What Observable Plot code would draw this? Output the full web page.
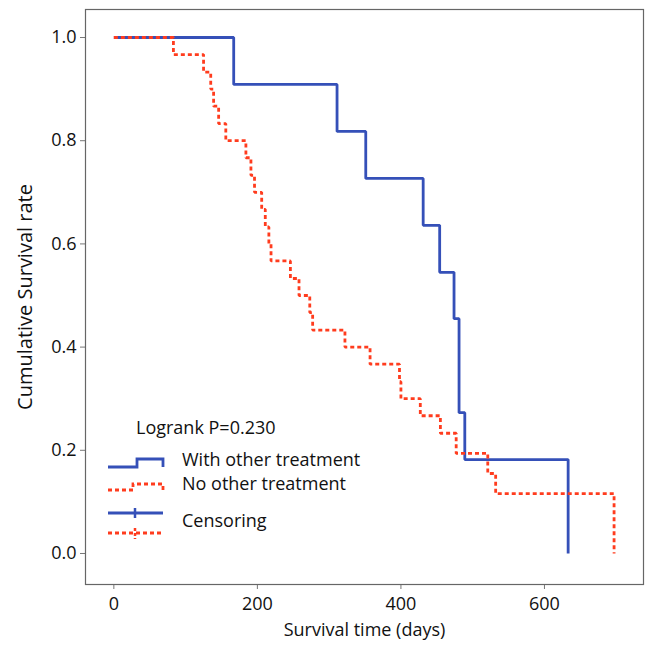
<!DOCTYPE html>
<html>
<head>
<meta charset="utf-8">
<script src="https://cdn.jsdelivr.net/npm/d3@7"></script>
<script src="https://cdn.jsdelivr.net/npm/@observablehq/plot@0.6"></script>
<style>
  html, body { margin: 0; padding: 0; background: #fff; }
  #chart { width: 649px; height: 648px; }
</style>
</head>
<body>
<div id="chart"></div>
<script>
// Survival data (Kaplan–Meier steps)
const withTime = [0, 167, 311, 351, 431, 454, 474, 481, 489, 633];
const withSurv = [1, 0.909, 0.818, 0.727, 0.636, 0.545, 0.455, 0.273, 0.182, 0];
const noTime = [0, 83, 125, 135, 139, 146, 156, 184, 191, 196, 206, 211, 216, 219, 246, 258, 273, 277, 322, 357, 398, 400, 427, 455, 477, 521, 532, 697];
const noSurv = [1, 0.967, 0.933, 0.9, 0.867, 0.833, 0.8, 0.767, 0.733, 0.7, 0.667, 0.633, 0.6, 0.567, 0.533, 0.5, 0.467, 0.433, 0.4, 0.367, 0.333, 0.3, 0.267, 0.233, 0.194, 0.155, 0.116, 0];
const xTicks = [0, 200, 400, 600];
const yTicks = [0, 0.2, 0.4, 0.6, 0.8, 1.0];
const seriesNames = ["With other treatment", "No other treatment"];
const censorLabel = "Censoring";
const pText = "Logrank P=0.230";
const xTitle = "Survival time (days)";
const yTitle = "Cumulative Survival rate";

const BLUE = "#3550b8";
const RED = "#ff3c1e";
const DASH = "4,3";
const FONT = "'Open Sans', sans-serif";

const withData = withTime.map((t, i) => ({t, s: withSurv[i]}));
const noData = noTime.map((t, i) => ({t, s: noSurv[i]}));

const chart = Plot.plot({
  width: 649,
  height: 648,
  marginLeft: 85,
  marginRight: 6,
  marginTop: 9,
  marginBottom: 64,
  style: {fontFamily: FONT, fontSize: "18px", color: "#111", background: "#fff"},
  x: {domain: [-39.5, 738]},
  y: {domain: [-0.0601, 1.0543]},
  marks: [
    Plot.axisX({ticks: xTicks, tickSize: 5, tickPadding: 8, label: null, stroke: "#777", fill: "#111", fontSize: 18}),
    Plot.axisY({ticks: yTicks, tickSize: 5, tickPadding: 4, label: null, tickFormat: d3.format(".1f"), stroke: "#777", fill: "#111", fontSize: 18}),
    Plot.line(withData, {x: "t", y: "s", curve: "step-after", stroke: BLUE, strokeWidth: 2.8, strokeLinejoin: "miter", strokeLinecap: "butt"}),
    Plot.line(noData, {x: "t", y: "s", curve: "step-after", stroke: RED, strokeWidth: 2.8, strokeDasharray: DASH, strokeLinejoin: "miter", strokeLinecap: "butt"}),
    Plot.frame({stroke: "#666", strokeWidth: 1.2}),
    Plot.text([yTitle], {frameAnchor: "left", textAnchor: "middle", dx: -60, rotate: -90, text: d => d, fontSize: 20, fill: "#111"}),
    Plot.text([xTitle], {frameAnchor: "bottom", textAnchor: "middle", dy: 51, text: d => d, fontSize: 18, fill: "#111"})
  ]
});
document.getElementById("chart").appendChild(chart);

// Legend drawn inside the plot area
const svg = d3.select(chart);
const lg = svg.append("g").attr("font-family", FONT).attr("font-size", 18).attr("fill", "#111").attr("text-anchor", "start");
lg.append("text").attr("x", 136).attr("y", 434).text(pText);
// series step symbols
lg.append("path").attr("d", "M108,467H137V459H163V467").attr("fill", "none").attr("stroke", BLUE).attr("stroke-width", 2.8);
lg.append("path").attr("d", "M108,490H133V484H163V490").attr("fill", "none").attr("stroke", RED).attr("stroke-width", 2.8).attr("stroke-dasharray", DASH);
lg.append("text").attr("x", 182).attr("y", 466).text(seriesNames[0]);
lg.append("text").attr("x", 182).attr("y", 490).text(seriesNames[1]);
// censoring symbols
lg.append("path").attr("d", "M108,513H163").attr("stroke", BLUE).attr("stroke-width", 2.8);
lg.append("path").attr("d", "M135,508V518").attr("stroke", BLUE).attr("stroke-width", 2.5);
lg.append("path").attr("d", "M108,533H163").attr("stroke", RED).attr("stroke-width", 2.8).attr("stroke-dasharray", DASH);
lg.append("path").attr("d", "M135,528V539").attr("stroke", RED).attr("stroke-width", 2.5).attr("stroke-dasharray", "3,2");
lg.append("text").attr("x", 182).attr("y", 527).text(censorLabel);
</script>
</body>
</html>
